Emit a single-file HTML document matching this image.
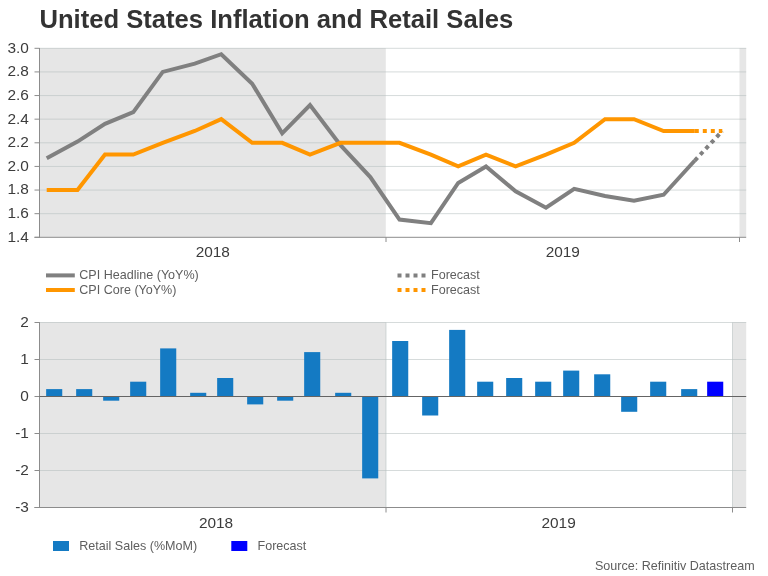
<!DOCTYPE html>
<html><head><meta charset="utf-8"><title>United States Inflation and Retail Sales</title>
<style>
html,body{margin:0;padding:0;background:#fff;}
svg{display:block;}
text{font-family:"Liberation Sans",Arial,sans-serif;}
.ax{font-size:15.4px;fill:#3c3c3c;}
.lg{font-size:12.55px;fill:#5e5e5e;}
</style></head><body>
<svg width="768" height="576" viewBox="0 0 768 576">
<rect width="768" height="576" fill="#fff"/>
<text x="39.4" y="27.6" font-size="25.62px" font-weight="bold" fill="#333">United States Inflation and Retail Sales</text>

<rect x="39.5" y="48" width="346.3" height="189.3" fill="#e6e6e6"/>
<rect x="739.5" y="48" width="6.7" height="189.3" fill="#e6e6e6"/>
<line x1="39.5" x2="746.2" y1="48.30" y2="48.30" stroke="#b4bebe" stroke-opacity="0.55" stroke-width="1"/>
<line x1="34.5" x2="39.5" y1="48.30" y2="48.30" stroke="#8c8c8c" stroke-width="1"/>
<text class="ax" x="28.9" y="52.70" text-anchor="end">3.0</text>
<line x1="39.5" x2="746.2" y1="71.92" y2="71.92" stroke="#b4bebe" stroke-opacity="0.55" stroke-width="1"/>
<line x1="34.5" x2="39.5" y1="71.92" y2="71.92" stroke="#8c8c8c" stroke-width="1"/>
<text class="ax" x="28.9" y="76.33" text-anchor="end">2.8</text>
<line x1="39.5" x2="746.2" y1="95.55" y2="95.55" stroke="#b4bebe" stroke-opacity="0.55" stroke-width="1"/>
<line x1="34.5" x2="39.5" y1="95.55" y2="95.55" stroke="#8c8c8c" stroke-width="1"/>
<text class="ax" x="28.9" y="99.95" text-anchor="end">2.6</text>
<line x1="39.5" x2="746.2" y1="119.17" y2="119.17" stroke="#b4bebe" stroke-opacity="0.55" stroke-width="1"/>
<line x1="34.5" x2="39.5" y1="119.17" y2="119.17" stroke="#8c8c8c" stroke-width="1"/>
<text class="ax" x="28.9" y="123.58" text-anchor="end">2.4</text>
<line x1="39.5" x2="746.2" y1="142.80" y2="142.80" stroke="#b4bebe" stroke-opacity="0.55" stroke-width="1"/>
<line x1="34.5" x2="39.5" y1="142.80" y2="142.80" stroke="#8c8c8c" stroke-width="1"/>
<text class="ax" x="28.9" y="147.20" text-anchor="end">2.2</text>
<line x1="39.5" x2="746.2" y1="166.43" y2="166.43" stroke="#b4bebe" stroke-opacity="0.55" stroke-width="1"/>
<line x1="34.5" x2="39.5" y1="166.43" y2="166.43" stroke="#8c8c8c" stroke-width="1"/>
<text class="ax" x="28.9" y="170.83" text-anchor="end">2.0</text>
<line x1="39.5" x2="746.2" y1="190.05" y2="190.05" stroke="#b4bebe" stroke-opacity="0.55" stroke-width="1"/>
<line x1="34.5" x2="39.5" y1="190.05" y2="190.05" stroke="#8c8c8c" stroke-width="1"/>
<text class="ax" x="28.9" y="194.45" text-anchor="end">1.8</text>
<line x1="39.5" x2="746.2" y1="213.68" y2="213.68" stroke="#b4bebe" stroke-opacity="0.55" stroke-width="1"/>
<line x1="34.5" x2="39.5" y1="213.68" y2="213.68" stroke="#8c8c8c" stroke-width="1"/>
<text class="ax" x="28.9" y="218.08" text-anchor="end">1.6</text>
<line x1="34.5" x2="39.5" y1="237.30" y2="237.30" stroke="#8c8c8c" stroke-width="1"/>
<text class="ax" x="28.9" y="241.70" text-anchor="end">1.4</text>
<line x1="39.5" x2="39.5" y1="48" y2="237.8" stroke="#8c8c8c" stroke-width="1"/>
<line x1="34.5" x2="746.2" y1="237.3" y2="237.3" stroke="#8c8c8c" stroke-width="1"/>
<line x1="386" x2="386" y1="237.3" y2="242" stroke="#8c8c8c" stroke-width="1"/>
<line x1="739.5" x2="739.5" y1="237.3" y2="242" stroke="#8c8c8c" stroke-width="1"/>
<text class="ax" x="212.8" y="257.2" text-anchor="middle">2018</text>
<text class="ax" x="562.8" y="257.2" text-anchor="middle">2019</text>
<polyline points="46.70,158.16 77.50,141.62 105.00,123.90 133.30,112.09 162.75,71.93 194.80,63.66 221.25,54.21 252.20,83.74 282.20,133.35 310.00,105.00 340.50,145.16 370.30,177.06 399.50,219.58 430.90,223.12 458.20,182.96 486.00,166.43 515.60,191.23 546.00,207.77 574.20,188.87 605.00,195.96 634.00,200.68 663.60,194.78 694.80,160.52" fill="none" stroke="#808080" stroke-width="4" stroke-linejoin="miter"/>
<polyline points="694.80,160.52 722.30,130.99" fill="none" stroke="#808080" stroke-width="4" stroke-dasharray="4 4"/>
<polyline points="46.70,190.05 77.50,190.05 105.00,154.61 133.30,154.61 162.75,142.80 194.80,130.99 221.25,119.18 252.20,142.80 282.20,142.80 310.00,154.61 340.50,142.80 370.30,142.80 399.50,142.80 430.90,154.61 458.20,166.43 486.00,154.61 515.60,166.43 546.00,154.61 574.20,142.80 605.00,119.18 634.00,119.18 663.60,130.99 694.80,130.99" fill="none" stroke="#ff9600" stroke-width="4" stroke-linejoin="miter"/>
<polyline points="694.80,130.99 722.30,130.99" fill="none" stroke="#ff9600" stroke-width="4" stroke-dasharray="4 4"/>
<line x1="46" x2="74.8" y1="275.4" y2="275.4" stroke="#808080" stroke-width="4"/>
<line x1="46" x2="74.8" y1="290" y2="290" stroke="#ff9600" stroke-width="4"/>
<text class="lg" x="79.3" y="278.8">CPI Headline (YoY%)</text>
<text class="lg" x="79.3" y="293.5">CPI Core (YoY%)</text>
<line x1="397.5" x2="426" y1="275.4" y2="275.4" stroke="#808080" stroke-width="4" stroke-dasharray="4 4"/>
<line x1="397.5" x2="426" y1="290" y2="290" stroke="#ff9600" stroke-width="4" stroke-dasharray="4 4"/>
<text class="lg" x="431" y="278.8">Forecast</text>
<text class="lg" x="431" y="293.5">Forecast</text>
<rect x="39.5" y="322.10" width="346.5" height="185.40" fill="#e6e6e6"/>
<rect x="732.5" y="322.10" width="13.7" height="185.40" fill="#e6e6e6"/>
<line x1="39.5" x2="746.2" y1="322.50" y2="322.50" stroke="#b4bebe" stroke-opacity="0.55" stroke-width="1"/>
<line x1="34.5" x2="39.5" y1="322.50" y2="322.50" stroke="#8c8c8c" stroke-width="1"/>
<text class="ax" x="28.9" y="326.90" text-anchor="end">2</text>
<line x1="39.5" x2="746.2" y1="359.50" y2="359.50" stroke="#b4bebe" stroke-opacity="0.55" stroke-width="1"/>
<line x1="34.5" x2="39.5" y1="359.50" y2="359.50" stroke="#8c8c8c" stroke-width="1"/>
<text class="ax" x="28.9" y="363.90" text-anchor="end">1</text>
<line x1="34.5" x2="39.5" y1="396.50" y2="396.50" stroke="#8c8c8c" stroke-width="1"/>
<text class="ax" x="28.9" y="400.90" text-anchor="end">0</text>
<line x1="39.5" x2="746.2" y1="433.50" y2="433.50" stroke="#b4bebe" stroke-opacity="0.55" stroke-width="1"/>
<line x1="34.5" x2="39.5" y1="433.50" y2="433.50" stroke="#8c8c8c" stroke-width="1"/>
<text class="ax" x="28.9" y="437.90" text-anchor="end">-1</text>
<line x1="39.5" x2="746.2" y1="470.50" y2="470.50" stroke="#b4bebe" stroke-opacity="0.55" stroke-width="1"/>
<line x1="34.5" x2="39.5" y1="470.50" y2="470.50" stroke="#8c8c8c" stroke-width="1"/>
<text class="ax" x="28.9" y="474.90" text-anchor="end">-2</text>
<line x1="34.5" x2="39.5" y1="507.50" y2="507.50" stroke="#8c8c8c" stroke-width="1"/>
<text class="ax" x="28.9" y="511.90" text-anchor="end">-3</text>
<line x1="386" x2="386" y1="322.50" y2="507.50" stroke="#b4bebe" stroke-opacity="0.55" stroke-width="1"/>
<line x1="386" x2="386" y1="507.50" y2="512.50" stroke="#8c8c8c" stroke-width="1"/>
<line x1="732.5" x2="732.5" y1="322.50" y2="507.50" stroke="#b4bebe" stroke-opacity="0.55" stroke-width="1"/>
<line x1="732.5" x2="732.5" y1="507.50" y2="512.50" stroke="#8c8c8c" stroke-width="1"/>
<line x1="39.5" x2="39.5" y1="322.10" y2="508.00" stroke="#8c8c8c" stroke-width="1"/>
<line x1="34.5" x2="746.2" y1="507.50" y2="507.50" stroke="#8c8c8c" stroke-width="1"/>
<rect x="46.15" y="389.10" width="16.1" height="7.40" fill="#147ac3"/>
<rect x="76.15" y="389.10" width="16.1" height="7.40" fill="#147ac3"/>
<rect x="103.15" y="397.00" width="16.1" height="3.70" fill="#147ac3"/>
<rect x="130.15" y="381.70" width="16.1" height="14.80" fill="#147ac3"/>
<rect x="160.15" y="348.40" width="16.1" height="48.10" fill="#147ac3"/>
<rect x="190.15" y="392.80" width="16.1" height="3.70" fill="#147ac3"/>
<rect x="217.15" y="378.00" width="16.1" height="18.50" fill="#147ac3"/>
<rect x="247.15" y="397.00" width="16.1" height="7.40" fill="#147ac3"/>
<rect x="277.15" y="397.00" width="16.1" height="3.70" fill="#147ac3"/>
<rect x="304.15" y="352.10" width="16.1" height="44.40" fill="#147ac3"/>
<rect x="335.15" y="392.80" width="16.1" height="3.70" fill="#147ac3"/>
<rect x="362.15" y="397.00" width="16.1" height="81.40" fill="#147ac3"/>
<rect x="392.15" y="341.00" width="16.1" height="55.50" fill="#147ac3"/>
<rect x="422.15" y="397.00" width="16.1" height="18.50" fill="#147ac3"/>
<rect x="449.15" y="329.90" width="16.1" height="66.60" fill="#147ac3"/>
<rect x="477.15" y="381.70" width="16.1" height="14.80" fill="#147ac3"/>
<rect x="506.15" y="378.00" width="16.1" height="18.50" fill="#147ac3"/>
<rect x="535.15" y="381.70" width="16.1" height="14.80" fill="#147ac3"/>
<rect x="563.15" y="370.60" width="16.1" height="25.90" fill="#147ac3"/>
<rect x="594.15" y="374.30" width="16.1" height="22.20" fill="#147ac3"/>
<rect x="621.15" y="397.00" width="16.1" height="14.80" fill="#147ac3"/>
<rect x="650.15" y="381.70" width="16.1" height="14.80" fill="#147ac3"/>
<rect x="681.15" y="389.10" width="16.1" height="7.40" fill="#147ac3"/>
<rect x="707.15" y="381.70" width="16.1" height="14.80" fill="#0000ff"/>
<line x1="39.5" x2="746.2" y1="396.5" y2="396.5" stroke="#646464" stroke-width="1"/>
<text class="ax" x="216" y="527.7" text-anchor="middle">2018</text>
<text class="ax" x="558.6" y="527.7" text-anchor="middle">2019</text>
<rect x="53" y="541" width="16" height="10" fill="#147ac3"/>
<text class="lg" x="79.3" y="549.6">Retail Sales (%MoM)</text>
<rect x="231.3" y="541" width="16" height="10" fill="#0000ff"/>
<text class="lg" x="257.5" y="549.6">Forecast</text>
<text class="lg" x="754.6" y="570" text-anchor="end">Source: Refinitiv Datastream</text>
</svg></body></html>
